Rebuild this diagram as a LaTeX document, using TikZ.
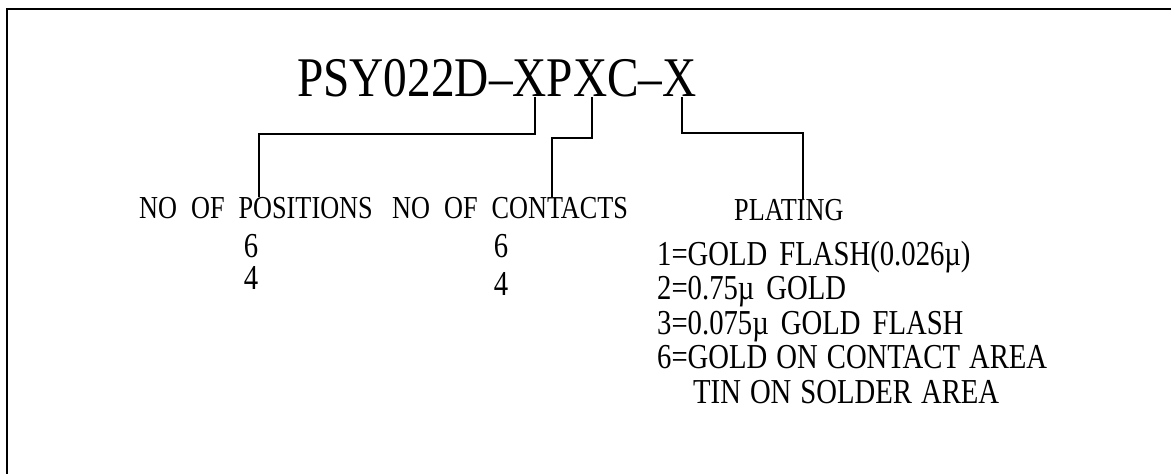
\documentclass[tikz,border=0pt]{standalone}
\usepackage{fontspec}
\setmainfont{Liberation Serif}[FakeStretch=0.82]
\newfontfamily\partfont{Liberation Serif}[FakeStretch=0.845]
\usetikzlibrary{positioning}

\tikzset{
  partno/.style={inner sep=0pt,anchor=base west,font=\partfont\fontsize{56}{60}\selectfont},
  heading/.style={inner sep=0pt,anchor=base west,font=\fontsize{32}{34}\selectfont},
  entry/.style={inner sep=0pt,anchor=base,align=center,font=\fontsize{35}{32}\selectfont},
  option/.style={inner sep=0pt,anchor=base west,align=left,font=\fontsize{35}{34.5}\selectfont},
  lead/.style={line width=1.6pt}
}

\begin{document}
\begin{tikzpicture}[x=1pt,y=-1pt]
\useasboundingbox (0,0) rectangle (1171,474);
% frame
\draw[line width=2pt] (7,474) -- (7,9) -- (1171,9);

% part number
\node[partno] (pn) at (297,96) {PSY022D–XPXC–X};
\coordinate (tapA) at (535,97);
\coordinate (tapB) at (592,97);
\coordinate (tapC) at (682,97);
\coordinate (bendA) at (259,134);
\coordinate (bendB) at (552,138);
\coordinate (bendC) at (803,133);

% headings
\node[heading] (pos) at (139,218) {NO\hspace{14pt}OF\hspace{14pt}POSITIONS};
\node[heading] (con) at (392,218) {NO\hspace{14pt}OF\hspace{14pt}CONTACTS};
\node[heading] (plat) at (734,220) {PLATING};

% leads
\draw[lead] (tapA) |- (bendA) -- (bendA |- pos.north);
\draw[lead] (tapB) |- (bendB) -- (bendB |- con.north);
\draw[lead] (tapC) |- (bendC) -- (bendC |- plat.north);

% values
\node[entry] (posval) at (251,289) {6\\4};
\node[entry,font=\fontsize{35}{38}\selectfont] (conval) at (501,295) {6\\4};
\node[option] (platval) at (657,403) {1=GOLD\hspace{12pt}FLASH(0.026µ)\\
  2=0.75µ\hspace{12pt}GOLD\\
  3=0.075µ\hspace{12pt}GOLD\hspace{12pt}FLASH\\
  6=GOLD\hspace{9pt}ON\hspace{9pt}CONTACT\hspace{9pt}AREA\\
  \hspace*{36pt}TIN\hspace{9pt}ON\hspace{9pt}SOLDER\hspace{9pt}AREA};
\end{tikzpicture}
\end{document}
